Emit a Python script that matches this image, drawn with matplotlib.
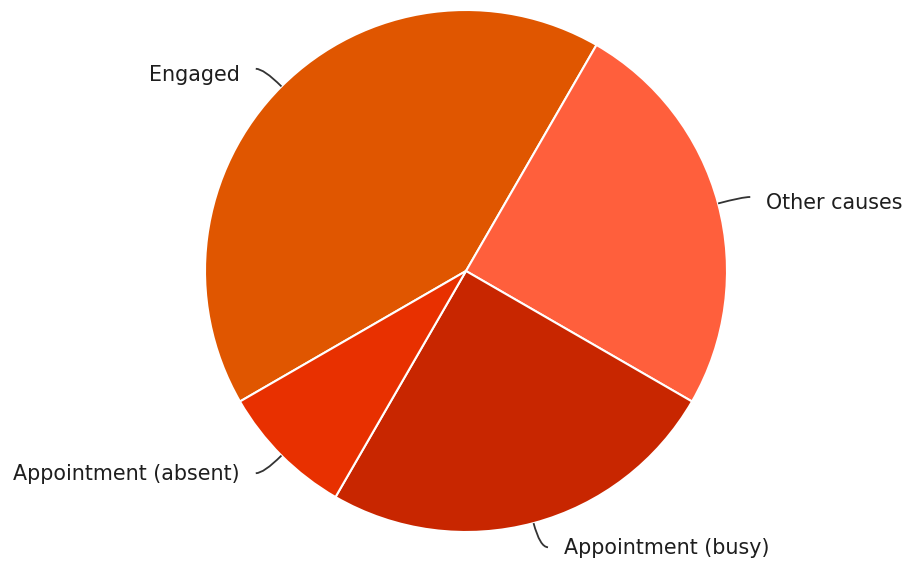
import numpy as np
import matplotlib.pyplot as plt
from matplotlib.path import Path
from matplotlib.patches import PathPatch

plt.rcParams["font.family"] = ["DejaVu Sans"]

labels = ["Engaged", "Other causes", "Appointment (busy)", "Appointment (absent)"]
values = [5, 3, 3, 1]
colors = ["#E05600", "#FF5F3C", "#C82600", "#E83000"]

W, H = 904, 561
cx, cy, r = 466, H - 271, 261

fig = plt.figure(figsize=(W / 100, H / 100), dpi=100)
ax = fig.add_axes([0, 0, 1, 1])

# pie starts with Engaged at 240 deg clockwise from 12 o'clock
start = 90 - 240
wedges, _ = ax.pie(values, colors=colors, startangle=start, counterclock=False,
                   center=(cx, cy), radius=r, frame=True,
                   wedgeprops=dict(edgecolor="white", linewidth=1.5))
ax.set_xlim(0, W)
ax.set_ylim(0, H)
ax.axis("off")

for w, lab in zip(wedges, labels):
    mid = np.deg2rad((w.theta1 + w.theta2) / 2)
    d = np.array([np.cos(mid), np.sin(mid)])
    side = 1 if d[0] > 0 else -1
    E = np.array([cx, cy]) + r * d
    O = np.array([cx, cy]) + (r + 25) * d
    end = O + np.array([8 * side, 0])
    path = Path([E, O, end], [Path.MOVETO, Path.CURVE3, Path.CURVE3])
    ax.add_patch(PathPatch(path, fill=False, edgecolor="#333333", lw=1.3))
    dy = -6 if d[1] > 0 else -1
    ax.text(end[0] + 16 * side, end[1] + dy, lab, ha="left" if side > 0 else "right",
            va="center", fontsize=14.9, color="#1e1e1e")

fig.savefig("out.png", dpi=100)
